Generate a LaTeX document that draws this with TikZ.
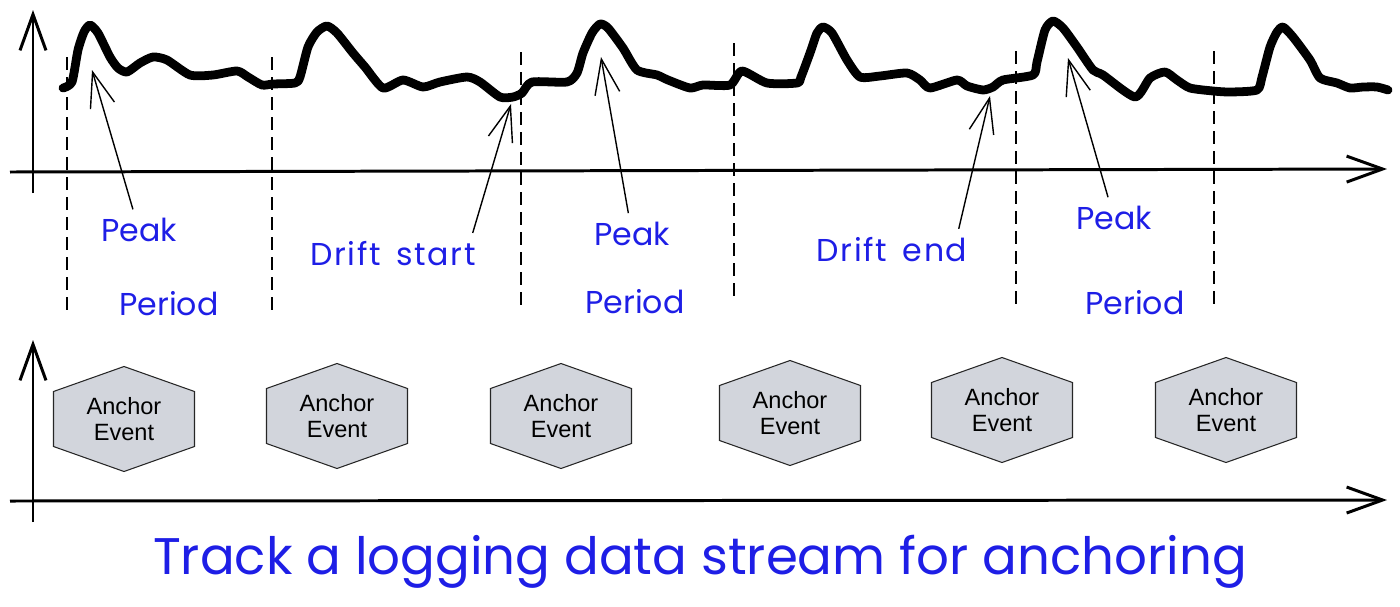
\documentclass[tikz,border=0pt]{standalone}
\usepackage{fontspec}
\setmainfont{Liberation Sans}
\newfontfamily\handfont{Poppins}
\newfontfamily\handwide[LetterSpace=5,WordSpace=1.6]{Poppins}
\usetikzlibrary{arrows.meta}
\definecolor{inkblue}{RGB}{30,30,230}
\definecolor{hexgrey}{RGB}{210,213,220}
\tikzset{
    axisline/.style={line width=1.7pt, -{Straight Barb[length=0.72cm,width=0.52cm]}},
    pointer/.style={line width=0.8pt, shorten <=4pt, -{Straight Barb[length=0.7cm,width=0.5cm]}},
    divider/.style={line width=1.1pt, dash pattern=on 7.4pt off 4pt},
    signal/.style={line width=5pt, line cap=round, line join=round},
    hexa/.style={draw=black!85, line width=0.6pt, fill=hexgrey},
    evtext/.style={align=center, font=\fontsize{13.4}{14.8}\selectfont},
    lbl/.style={text=inkblue, inner sep=1pt, font=\handfont\fontsize{18}{20}\selectfont},
    widelbl/.style={lbl, font=\handwide\fontsize{18}{20}\selectfont},
}

\begin{document}
\begin{tikzpicture}[x=0.02cm, y=-0.02cm]
        \useasboundingbox (0,0) rectangle (1400,606);
        % Achsen oben
        \draw[axisline] (33,193) -- (33,10);
        \draw[axisline] (10,172) -- (1387,169);
        % Achsen unten
        \draw[axisline] (33,522) -- (33,340);
        \draw[axisline] (10,501) -- (1387,500);
        % Perioden
        \draw[divider]
        (67,57) -- (67,315)
        (272,57) -- (272,313)
        (521,52) -- (521,308)
        (734,43) -- (734,300)
        (1016,51) -- (1016,305)
        (1214,51) -- (1214,305)
        ;
        % Datenstrom
        \draw[signal] plot[smooth, tension=0.4] coordinates {
        (63,88) (72,82) (78,50) (84,32) (90,25) (98,33) (110,57) (118,68)
        (127,72) (140,63) (153,57) (167,60) (190,75) (213,75) (237,71)
        (248,77) (262,85) (273,84) (295,83) (300,77) (308,47) (317,32)
        (327,26) (337,33) (353,53) (365,67) (383,88) (403,80) (423,87)
        (440,82) (467,77) (480,82) (500,97) (513,97) (522,93) (532,82)
        (567,82) (577,73) (583,53) (592,33) (600,24) (608,28) (623,48)
        (637,70) (657,75) (668,80) (690,88) (703,85) (730,85) (742,71)
        (767,83) (797,83) (801,77) (810,53) (817,33) (823,27) (832,33)
        (847,60) (860,77) (880,76) (907,73) (920,80) (930,88) (957,80)
        (967,86) (983,90) (993,87) (1003,80) (1033,75) (1037,62) (1045,30)
        (1053,21) (1063,28) (1077,47) (1093,70) (1103,75) (1135,97)
        (1150,78) (1165,72) (1177,80) (1190,88) (1213,91) (1230,92)
        (1257,90) (1262,77) (1270,47) (1277,32) (1283,27) (1293,37)
        (1310,60) (1320,78) (1337,83) (1350,88) (1363,87) (1377,87) (1388,90)
        };
        % Beschriftungen
        \node[lbl] (peakA) at (139,230) {Peak};
        \node[lbl] (peakB) at (632,234) {Peak};
        \node[lbl] (peakC) at (1114,218) {Peak};
        \node[widelbl] (dstart) at (393,254) {Drift start};
        \node[widelbl] (dend) at (892,250) {Drift end};
        \node[lbl] (perA) at (169,304) {Period};
        \node[lbl] (perB) at (635,302) {Period};
        \node[lbl] (perC) at (1135,303) {Period};
        % Pfeile
        \coordinate (tipA) at (92,70);
        \coordinate (tipB) at (511,104);
        \coordinate (tipC) at (601,57);
        \coordinate (tipD) at (990,96);
        \coordinate (tipE) at (1068,58);
        \draw[pointer] (peakA) -- (tipA);
        \draw[pointer] ([xshift=-4pt]dstart.north east) -- (tipB);
        \draw[pointer] (peakB) -- (tipC);
        \draw[pointer] ([xshift=-7pt]dend.north east) -- (tipD);
        \draw[pointer] (peakC) -- (tipE);
        % Ankerereignisse
        \foreach \i/\x/\y in {1/124/419, 2/337/416, 3/561/416, 4/790/413, 5/1002/410, 6/1226/410} {
            \draw[hexa] (\x,\y) +(0,-52.5) -- +(70.5,-27.5) -- +(70.5,27.5) -- +(0,52.5) -- +(-70.5,27.5) -- +(-70.5,-27.5) -- cycle;
            \node[evtext] (ev\i) at (\x,\y) {Anchor\\Event};
        }
        % Titel
        \node[lbl, font=\handfont\fontsize{29.3}{33}\selectfont] (caption) at (700,562) {Track a logging data stream for anchoring};
    \end{tikzpicture}
\end{document}
